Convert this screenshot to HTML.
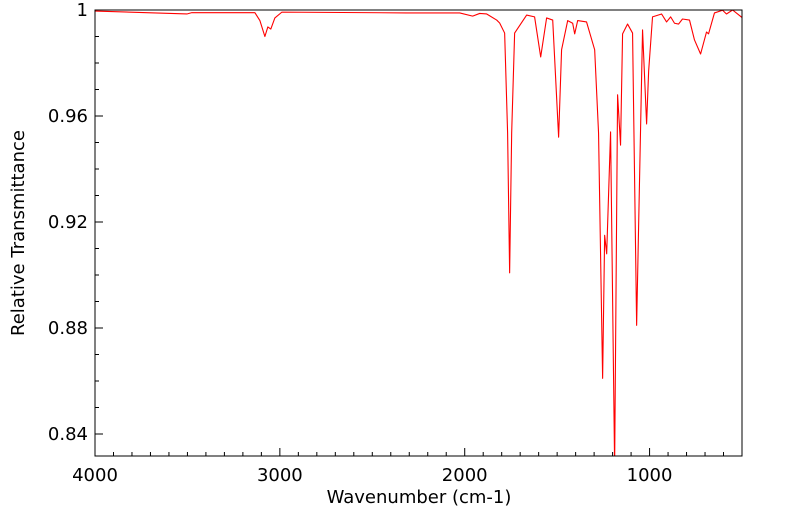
<!DOCTYPE html>
<html><head><meta charset="utf-8"><style>
html,body{margin:0;padding:0;background:#fff;}
svg text{font-family:"DejaVu Sans","Liberation Sans",sans-serif;fill:#000;}
</style></head><body>
<svg id="chart" width="799" height="516" xmlns="http://www.w3.org/2000/svg">
<rect x="95" y="10" width="647" height="446" fill="#fff"/>
<g id="ticks"></g>
<clipPath id="clip"><rect x="95" y="10" width="647" height="446"/></clipPath>
<path id="spectrum" fill="none" stroke="#ff0000" stroke-width="1.1" stroke-linejoin="round" clip-path="url(#clip)"/>
<rect x="95" y="10" width="647" height="446" fill="none" stroke="#000" stroke-width="1"/>
<text x="419" y="503" font-size="18" text-anchor="middle">Wavenumber (cm-1)</text>
<text transform="translate(24,233) rotate(-90)" font-size="18" text-anchor="middle">Relative Transmittance</text>
</svg>
<script>
const wavenumbers=[4000,3503,3476,3135,3108,3081,3065,3049,3027,2989,2314,2027,1957,1919,1881,1827,1811,1784,1768,1757,1746,1730,1665,1622,1589,1557,1524,1492,1476,1443,1416,1405,1389,1341,1297,1276,1254,1243,1232,1211,1189,1173,1157,1146,1119,1092,1070,1038,1016,1005,984,935,908,886,865,843,822,784,757,724,692,681,649,605,584,551,497];
const transmittance=[0.9996,0.9985,0.999,0.999,0.996,0.990,0.9936,0.9928,0.997,0.9992,0.9989,0.9989,0.9977,0.9987,0.9985,0.9962,0.9951,0.9913,0.9536,0.9008,0.9536,0.9913,0.9981,0.9974,0.9823,0.997,0.9962,0.952,0.985,0.996,0.995,0.991,0.996,0.9955,0.985,0.9536,0.861,0.915,0.908,0.954,0.828,0.968,0.949,0.991,0.9947,0.9913,0.881,0.9925,0.957,0.977,0.9974,0.9985,0.9955,0.9974,0.995,0.9947,0.9966,0.9962,0.9887,0.9834,0.9917,0.991,0.9989,0.9999,0.9985,1.0,0.997];
const xTickLabels=[4000,3000,2000,1000];
const yTickLabels=[0.84,0.88,0.92,0.96,1];
const X0=95,X1=742,Y0=456,Y1=10;
const xMin=500,xMax=4000,yMin=0.8317,yMax=1.0;
function xs(w){return X0+(xMax-w)/(xMax-xMin)*(X1-X0);}
function ys(t){return Y0-(t-yMin)/(yMax-yMin)*(Y0-Y1);}
const NS="http://www.w3.org/2000/svg";
let d="";
wavenumbers.forEach((w,i)=>{d+=(i?"L":"M")+xs(w).toFixed(2)+","+ys(transmittance[i]).toFixed(2);});
document.getElementById("spectrum").setAttribute("d",d);
const g=document.getElementById("ticks");
const svg=document.getElementById("chart");
function line(x1,y1,x2,y2,name){const l=document.createElementNS(NS,"line");
l.setAttribute("x1",x1);l.setAttribute("y1",y1);l.setAttribute("x2",x2);l.setAttribute("y2",y2);
l.setAttribute("stroke","#000");l.setAttribute("stroke-width","1");


g.appendChild(l);}
for(let w=600;w<=4000;w+=100){const x=xs(w);const major=w%1000===0;line(x,Y0,x,Y0-(major?8:4),major?'x-major-tick':'x-minor-tick');}
for(let k=84;k<=100;k++){const y=ys(k/100);const major=(k-84)%4===0;line(X0,y,X0+(major?8:4),y,major?'y-major-tick':'y-minor-tick');}
xTickLabels.forEach(v=>{const t=document.createElementNS(NS,"text");
t.setAttribute("x",xs(v));t.setAttribute("y",Y0+25);t.setAttribute("font-size","18");t.setAttribute("text-anchor","middle");
t.textContent=v;


svg.appendChild(t);});
yTickLabels.forEach(v=>{const t=document.createElementNS(NS,"text");
t.setAttribute("x",X0-7);t.setAttribute("y",ys(v)+6);t.setAttribute("font-size","18");t.setAttribute("text-anchor","end");
t.textContent=v;


svg.appendChild(t);});
</script>
</body></html>
